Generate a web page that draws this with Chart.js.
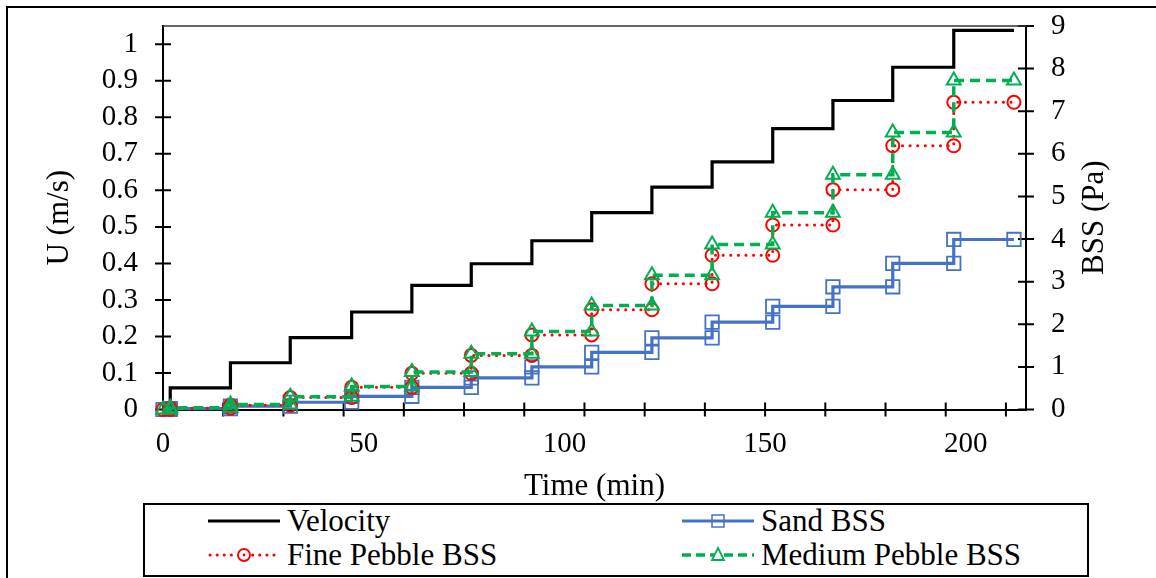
<!DOCTYPE html>
<html><head><meta charset="utf-8">
<script src="https://cdn.jsdelivr.net/npm/chart.js@4.4.1/dist/chart.umd.min.js"></script>
<style>
html,body{margin:0;padding:0;background:#fff;overflow:hidden;width:1156px;height:578px;}
#wrap{position:relative;width:1156px;height:578px;overflow:hidden;}
canvas{position:absolute;left:0;top:0;}
#frame{position:absolute;left:6px;top:6px;width:1200px;height:700px;border:2px solid #000;box-sizing:border-box;pointer-events:none;}
#legend{position:absolute;left:143px;top:503px;width:946px;height:74px;border:2px solid #000;box-sizing:border-box;background:#fff;font-family:'Liberation Serif','Times New Roman',serif;font-size:31px;color:#000;}
.item{position:absolute;display:flex;align-items:center;height:34px;line-height:34px;white-space:nowrap;}
.item svg{margin-right:7px;display:block;}
</style></head>
<body>
<div id="wrap">
<canvas id="c" width="1156" height="578"></canvas>
<div id="frame"></div>
<div id="legend">
  <div class="item" style="left:63px;top:-1px"><svg width="72" height="24"><line x1="0" y1="12" x2="72" y2="12" stroke="#000" stroke-width="3"/></svg>Velocity</div>
  <div class="item" style="left:537px;top:-1px"><svg width="72" height="24"><line x1="0" y1="12" x2="72" y2="12" stroke="#4472C4" stroke-width="3"/><rect x="30" y="6" width="12" height="12" fill="none" stroke="#4472C4" stroke-width="1.5"/></svg>Sand BSS</div>
  <div class="item" style="left:63px;top:33px"><svg width="72" height="24"><line x1="2" y1="12" x2="72" y2="12" stroke="#FF0000" stroke-width="3" stroke-dasharray="0.1 7" stroke-linecap="round"/><circle cx="36" cy="12" r="6" fill="#fff" stroke="#FF0000" stroke-width="1.8"/><circle cx="36" cy="12" r="1.4" fill="#FF0000"/></svg>Fine Pebble BSS</div>
  <div class="item" style="left:537px;top:33px"><svg width="72" height="24"><line x1="0" y1="12" x2="72" y2="12" stroke="#00B050" stroke-width="3.5" stroke-dasharray="9 5"/><polygon points="36,5 42,17 30,17" fill="#fff" stroke="#00B050" stroke-width="1.8"/></svg>Medium Pebble BSS</div>
</div>
</div>
<script>
// ---- data ----
const stepTimes = [1.8, 16.8, 31.7, 47, 62, 76.8, 91.9, 106.8, 121.8, 136.8, 151.9, 166.9, 181.8, 197];
const endTime = 212;
const velocity = [0.059, 0.128, 0.197, 0.267, 0.340, 0.399, 0.462, 0.539, 0.609, 0.678, 0.769, 0.846, 0.937, 1.038];
const sandBSS = [0.02, 0.08, 0.17, 0.31, 0.52, 0.74, 1.00, 1.34, 1.68, 2.05, 2.42, 2.88, 3.43, 3.99];
const finePebbleBSS = [0.03, 0.10, 0.28, 0.52, 0.85, 1.27, 1.75, 2.34, 2.95, 3.62, 4.33, 5.16, 6.19, 7.21];
const mediumPebbleBSS = [0.04, 0.12, 0.30, 0.54, 0.88, 1.31, 1.83, 2.44, 3.15, 3.87, 4.62, 5.51, 6.50, 7.72];
const xTickLabels = [0, 50, 100, 150, 200];
const xTickMarks = [0, 15, 30, 45, 60, 75, 90, 105, 120, 135, 150, 165, 180, 195, 210];
const uTicks = [0, 0.1, 0.2, 0.3, 0.4, 0.5, 0.6, 0.7, 0.8, 0.9, 1];
const bssTicks = [0, 1, 2, 3, 4, 5, 6, 7, 8, 9];

function stepSeries(levels) {
  const pts = [{x: 0, y: 0}];
  let prev = 0;
  stepTimes.forEach((t, i) => {
    pts.push({x: t, y: prev});
    pts.push({x: t, y: levels[i]});
    prev = levels[i];
  });
  pts.push({x: endTime, y: prev});
  return pts;
}

const FONT = "'Liberation Serif','Times New Roman',serif";
Chart.defaults.font.family = FONT;
Chart.defaults.color = '#000';

const decor = {
  id: 'decor',
  beforeDatasetsDraw(chart) {
    const ctx = chart.ctx, a = chart.chartArea;
    const sx = chart.scales.x, sy = chart.scales.y, sy2 = chart.scales.y2;
    ctx.save();
    ctx.strokeStyle = '#000';
    ctx.lineWidth = 2;
    ctx.beginPath();
    xTickMarks.forEach(v => { const p = sx.getPixelForValue(v); ctx.moveTo(p, a.bottom - 7); ctx.lineTo(p, a.bottom + 7); });
    uTicks.forEach(v => { const p = sy.getPixelForValue(v); ctx.moveTo(a.left - 8, p); ctx.lineTo(a.left + 8, p); });
    bssTicks.forEach(v => { const p = sy2.getPixelForValue(v); ctx.moveTo(a.right - 8, p); ctx.lineTo(a.right + 8, p); });
    ctx.stroke();
    ctx.strokeStyle = '#333';
    ctx.lineWidth = 1.5;
    ctx.beginPath();
    ctx.moveTo(a.left, a.top); ctx.lineTo(a.right, a.top);
    ctx.stroke();
    ctx.translate(1095, (a.top + a.bottom) / 2);
    ctx.rotate(-Math.PI / 2);
    ctx.font = '31px ' + FONT;
    ctx.fillStyle = '#000';
    ctx.textAlign = 'center';
    ctx.textBaseline = 'middle';
    ctx.fillText('BSS (Pa)', 0, 0);
    ctx.restore();
  }
};

new Chart(document.getElementById('c'), {
  type: 'line',
  data: {
    datasets: [
      {label: 'Velocity', data: stepSeries(velocity), yAxisID: 'y', borderColor: '#000', borderWidth: 3.2,
       pointRadius: 0, fill: false, order: 3, clip: false},
      {label: 'Sand BSS', data: stepSeries(sandBSS), yAxisID: 'y2', borderColor: '#4472C4', borderWidth: 3.2,
       pointStyle: 'rect', pointRadius: 9.5, pointBorderWidth: 1.8, pointBorderColor: '#4472C4',
       pointBackgroundColor: 'rgba(0,0,0,0)', fill: false, order: 2, clip: false},
      {label: 'Fine Pebble BSS', data: stepSeries(finePebbleBSS), yAxisID: 'y2', borderColor: '#FF0000', borderWidth: 3,
       borderDash: [0.1, 7.5], borderCapStyle: 'round',
       pointStyle: 'circle', pointRadius: 6.5, pointBorderWidth: 2, pointBorderColor: '#FF0000',
       pointBackgroundColor: 'rgba(0,0,0,0)', fill: false, order: 1, clip: false},
      {label: 'Medium Pebble BSS', data: stepSeries(mediumPebbleBSS), yAxisID: 'y2', borderColor: '#00B050', borderWidth: 3.5,
       borderDash: [10, 6],
       pointStyle: 'triangle', pointRadius: 8, pointBorderWidth: 2, pointBorderColor: '#00B050',
       pointBackgroundColor: 'rgba(0,0,0,0)', fill: false, order: 0, clip: false}
    ]
  },
  options: {
    responsive: false,
    animation: false,
    devicePixelRatio: 1,
    layout: {padding: {top: 26, left: 0, right: 0, bottom: 73}},
    plugins: {legend: {display: false}, tooltip: {enabled: false}},
    elements: {line: {tension: 0}},
    scales: {
      x: {
        type: 'linear', position: 'bottom', min: 0, max: 215,
        afterBuildTicks: s => { s.ticks = xTickLabels.map(v => ({value: v})); },
        afterFit: s => { s.height = 95.5; s.paddingLeft = 0; s.paddingRight = 0; },
        grid: {display: false, drawTicks: false},
        border: {display: true, color: '#000', width: 2},
        ticks: {autoSkip: false, maxRotation: 0, padding: 17, font: {size: 29}, color: '#000', callback: v => String(v)},
        title: {display: true, text: 'Time (min)', font: {size: 31}, color: '#000', padding: {top: 0, bottom: 0}}
      },
      y: {
        type: 'linear', position: 'left', min: 0, max: 1.05,
        afterBuildTicks: s => { s.ticks = uTicks.map(v => ({value: v})); },
        afterFit: s => { s.width = 163; s.paddingTop = 0; s.paddingBottom = 0; },
        grid: {display: false, drawTicks: false},
        border: {display: true, color: '#000', width: 2},
        ticks: {autoSkip: false, padding: 25, font: {size: 29}, color: '#000', callback: v => String(v)},
        title: {display: true, text: 'U (m/s)', font: {size: 31}, color: '#000', padding: {top: 41, bottom: 0}}
      },
      y2: {
        type: 'linear', position: 'right', min: 0, max: 9,
        afterBuildTicks: s => { s.ticks = bssTicks.map(v => ({value: v})); },
        afterFit: s => { s.width = 130; s.paddingTop = 0; s.paddingBottom = 0; },
        grid: {display: false, drawTicks: false},
        border: {display: true, color: '#000', width: 2},
        ticks: {autoSkip: false, padding: 25, font: {size: 29}, color: '#000', callback: v => String(v)},
        title: {display: false}
      }
    }
  },
  plugins: [decor]
});
</script>
</body></html>
